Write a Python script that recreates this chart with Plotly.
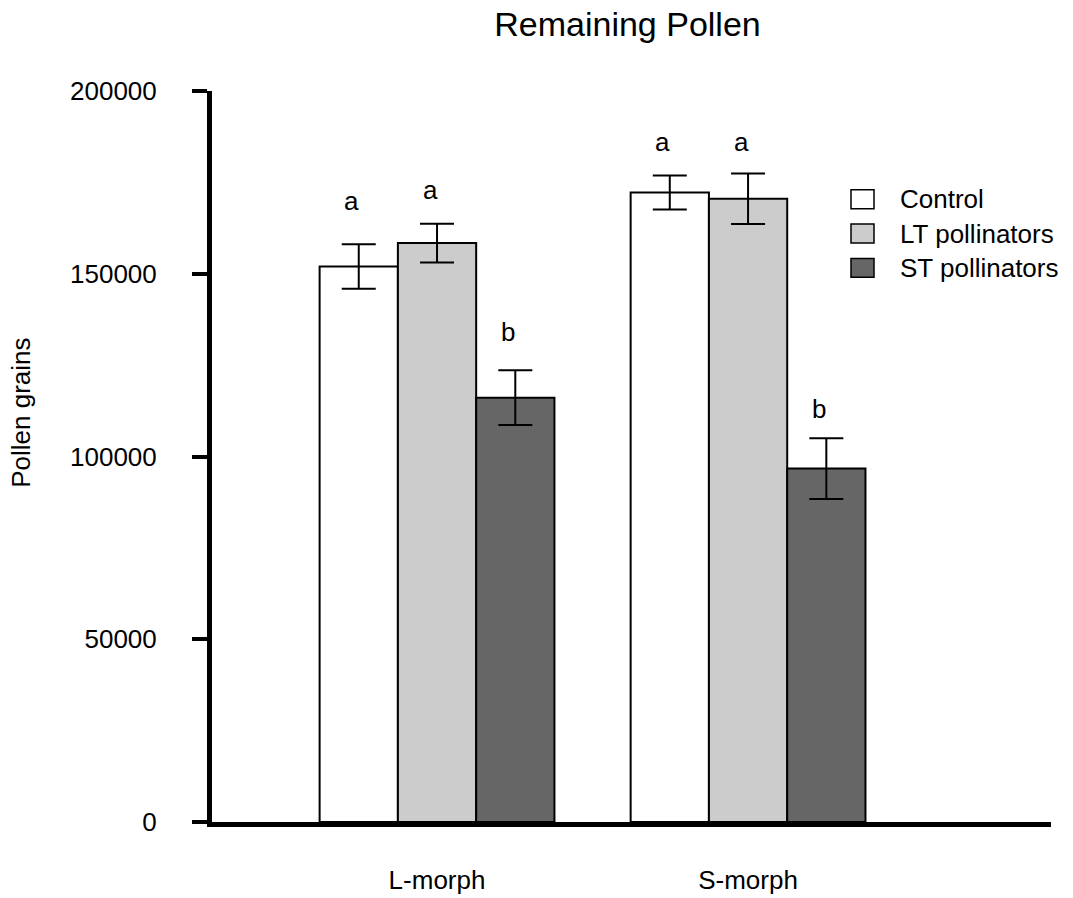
import plotly.graph_objects as go

categories = ["L-morph", "S-morph"]
series_names = ["Control", "LT pollinators", "ST pollinators"]
series_colors = ["#ffffff", "#cccccc", "#666666"]
means = [
    [152000, 172200],   # Control
    [158400, 170500],   # LT pollinators
    [116100, 96700],    # ST pollinators
]
errors = [
    [6100, 4650],
    [5300, 6900],
    [7500, 8300],
]
letters = [
    ["a", "a"],
    ["a", "a"],
    ["b", "b"],
]
letter_y = [
    [169900, 186000],
    [173000, 186000],
    [134200, 113000],
]
y_ticks = [0, 50000, 100000, 150000, 200000]

FONT = "Liberation Sans, Arial, sans-serif"
W, H = 1073, 898
L, R, T, B = 212, 22, 91, 75.5
PW = W - L - R
PH = H - T - B
bargap = 0.245
barw = (1 - bargap) / len(series_names)

fig = go.Figure()
xpos = list(range(len(categories)))
for i, name in enumerate(series_names):
    fig.add_trace(go.Bar(
        x=xpos, y=means[i], name=name,
        marker=dict(color=series_colors[i], line=dict(color="black", width=2)),
        error_y=dict(type="data", array=errors[i], color="black", thickness=2, width=17),
        showlegend=False,
    ))

annotations = []
for i in range(len(series_names)):
    for j in range(len(categories)):
        annotations.append(dict(
            x=j + (i - 1) * barw - 0.022, y=letter_y[i][j], xref="x", yref="y",
            text=letters[i][j], showarrow=False, yanchor="middle",
            font=dict(family=FONT, size=26, color="black"),
        ))

# manual legend
def px2x(px):
    return (px - L) / PW

def py2y(py):
    return (T + PH - py) / PH

shapes = []
leg_rows = [199.3, 233.6, 268.0]
for i, name in enumerate(series_names):
    cy = leg_rows[i]
    shapes.append(dict(type="rect", xref="paper", yref="paper",
                       x0=px2x(851), x1=px2x(874), y0=py2y(cy + 9.5), y1=py2y(cy - 9.5),
                       fillcolor=series_colors[i], line=dict(color="black", width=1.5)))
    annotations.append(dict(x=px2x(898), y=py2y(cy), xref="paper", yref="paper",
                            text=name, showarrow=False, xanchor="left", yanchor="middle",
                            font=dict(family=FONT, size=26, color="black")))

annotations.append(dict(x=px2x(21), y=py2y(413), xref="paper", yref="paper",
                        text="Pollen grains", textangle=-90, showarrow=False,
                        xanchor="center", yanchor="middle",
                        font=dict(family=FONT, size=26, color="black")))

fig.update_layout(
    width=W, height=H,
    margin=dict(l=L, r=R, t=T, b=B, pad=0, autoexpand=False),
    paper_bgcolor="white", plot_bgcolor="white",
    barmode="group", bargap=bargap, bargroupgap=0,
    title=dict(text="Remaining Pollen", x=px2x(627.5), xref="paper", xanchor="center",
               y=1 - 24 / H, yref="container", yanchor="middle",
               font=dict(family=FONT, size=34, color="black")),
    annotations=annotations, shapes=shapes,
    font=dict(family=FONT, size=26, color="black"),
)
fig.update_xaxes(
    range=[-0.7235, 1.974], tickvals=xpos, ticktext=categories,
    showline=True, linecolor="black", linewidth=5, ticks="",
    showgrid=False, zeroline=False, ticklabelstandoff=31, automargin=False,
    tickfont=dict(family=FONT, size=26, color="black"),
)
fig.update_yaxes(
    range=[0, 200000], tickvals=y_ticks, ticktext=[str(v) for v in y_ticks],
    showline=True, linecolor="black", linewidth=5, ticks="outside", ticklen=15,
    tickwidth=4, tickcolor="black", showgrid=False, zeroline=False, automargin=False,
    ticklabelstandoff=30, tickfont=dict(family=FONT, size=26, color="black"),
)
fig.write_html("out.html")
